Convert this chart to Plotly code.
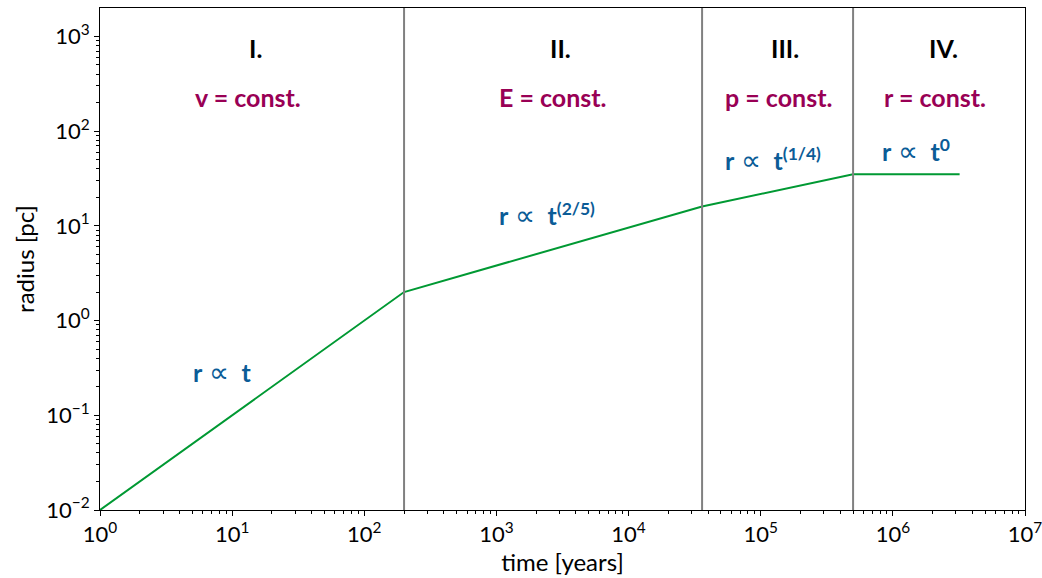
import numpy as np
import plotly.graph_objects as go

# data
time_years = [1, 200, 36000, 59000, 500000, 3.2e6]
radius_pc = [0.01, 2, 16, 18.5, 35, 35]
phase_bounds = [200, 36000, 500000]
x_tick_exps = [0, 1, 2, 3, 4, 5, 6, 7]
y_tick_exps = [-2, -1, 0, 1, 2, 3]
phase_labels = ["I.", "II.", "III.", "IV."]
phase_conditions = ["v&nbsp;=&nbsp;const.", "E&nbsp;=&nbsp;const.", "p&nbsp;=&nbsp;const.", "r&nbsp;=&nbsp;const."]
scaling_exps = ["", "(2/5)", "(1/4)", "0"]

FONT = "Lato"
MAROON = "#990055"
BLUE = "#0b5c97"
GREEN = "#009933"

fig = go.Figure()
fig.add_trace(go.Scatter(x=time_years, y=radius_pc, mode="lines",
                         line=dict(color=GREEN, width=2), showlegend=False))

for b in phase_bounds:
    fig.add_shape(type="line", xref="x", yref="paper", x0=b, x1=b, y0=0, y1=1,
                  line=dict(color="#808080", width=2))

def fmt(e):
    s = str(e).replace("-", "\u2212")
    return f"10<sup>{s}</sup>"

def minor_vals(exps):
    vals = []
    for e in exps[:-1]:
        for m in range(2, 10):
            vals.append(m * 10.0 ** e)
    return vals

# annotation positions (log10 data units)
label_x = [1.173, 3.482, 5.185, 6.381]
cond_x = [1.12, 3.429, 5.132, 6.321]
scal_pos = [(0.924, -0.534), (3.384, 1.13), (5.095, 1.71), (6.177, 1.80)]

for i in range(4):
    fig.add_annotation(x=label_x[i], y=2.873, xref="x", yref="y",
                       text=f"<b>{phase_labels[i]}</b>", showarrow=False,
                       font=dict(family=FONT, size=25, color="black"))
    fig.add_annotation(x=cond_x[i], y=2.357, xref="x", yref="y",
                       text=f"<b>{phase_conditions[i]}</b>", showarrow=False,
                       font=dict(family=FONT, size=25, color=MAROON))
    sup = f"<sup><b>{scaling_exps[i]}</b></sup>" if scaling_exps[i] else ""
    fig.add_annotation(x=scal_pos[i][0], y=scal_pos[i][1], xref="x", yref="y",
                       text=f"<b>r</b> <span style='font-size:28px'>\u221d</span>&nbsp;&nbsp;<b>t</b>{sup}",
                       showarrow=False,
                       font=dict(family=FONT, size=25, color=BLUE))

axis_common = dict(showline=True, linecolor="black", linewidth=1, mirror=True,
                   ticks="outside", ticklen=5, tickcolor="black", showgrid=False,
                   zeroline=False, automargin=False, ticklabeloverflow="allow",
                   tickfont=dict(family=FONT, size=22, color="black"))

fig.update_xaxes(type="log", range=[0, 7],
                 tickvals=[10.0 ** e for e in x_tick_exps],
                 ticktext=[fmt(e) for e in x_tick_exps],
                 minor=dict(tickvals=minor_vals(x_tick_exps), ticks="outside",
                            ticklen=3, tickcolor="black"),
                 title=dict(text="time [years]", font=dict(family=FONT, size=24, color="black"),
                            standoff=2),
                 **axis_common)
fig.update_yaxes(type="log", range=[-2, 3.3],
                 tickvals=[10.0 ** e for e in y_tick_exps],
                 ticktext=[fmt(e) for e in y_tick_exps],
                 minor=dict(tickvals=minor_vals(y_tick_exps + [4]), ticks="outside",
                            ticklen=3, tickcolor="black"),
                 title=dict(text="radius [pc]", font=dict(family=FONT, size=24, color="black"),
                            standoff=4),
                 **axis_common)

fig.update_layout(width=1042, height=578, margin=dict(l=100, r=17, t=8, b=68),
                  plot_bgcolor="white", paper_bgcolor="white")
fig.write_html("out.html")
